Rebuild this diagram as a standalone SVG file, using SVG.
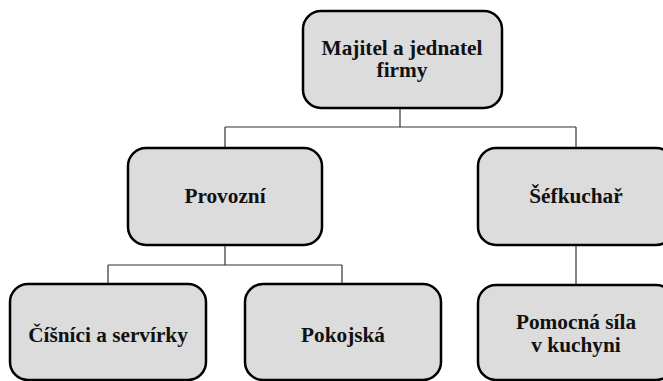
<svg xmlns="http://www.w3.org/2000/svg" width="663" height="381" viewBox="0 0 663 381">
<style>
.box{fill:#dcdcdc;stroke:#000;stroke-width:2.5}
.lbl{font-family:"Liberation Serif",serif !important;font-weight:bold;font-size:21.3px;fill:#111;text-anchor:middle}
.c{fill:none;stroke:#333;stroke-width:1.2}
</style>
<rect width="663" height="381" fill="#fff"/>
<g id="connectors">
<path class="c" d="M400 108V127M225 127H576M225 127V148M576 127V148"/>
<path class="c" d="M225 245V265M108 265H342M108 265V284M342 265V284"/>
<path class="c" d="M576 245V285"/>
</g>
<g id="n-majitel">
<rect class="box" x="303" y="11" width="199" height="97" rx="18"/>
<text class="lbl" font-family="Liberation Serif" x="402" y="55">Majitel a jednatel</text>
<text class="lbl" font-family="Liberation Serif" x="402" y="77">firmy</text>
</g>
<g id="n-provozni">
<rect class="box" x="128" y="148" width="194" height="97" rx="18"/>
<text class="lbl" font-family="Liberation Serif" x="225" y="203">Provozní</text>
</g>
<g id="n-sefkuchar">
<rect class="box" x="478" y="148" width="196" height="97" rx="18"/>
<text class="lbl" font-family="Liberation Serif" x="576" y="203">Šéfkuchař</text>
</g>
<g id="n-cisnici">
<rect class="box" x="10" y="284" width="196" height="96" rx="18"/>
<text class="lbl" font-family="Liberation Serif" x="108" y="342">Číšníci a servírky</text>
</g>
<g id="n-pokojska">
<rect class="box" x="245" y="284" width="196" height="96" rx="18"/>
<text class="lbl" font-family="Liberation Serif" x="343" y="342">Pokojská</text>
</g>
<g id="n-pomocna">
<rect class="box" x="478" y="285" width="196" height="95" rx="18"/>
<text class="lbl" font-family="Liberation Serif" x="576" y="329">Pomocná síla</text>
<text class="lbl" font-family="Liberation Serif" x="576" y="352">v kuchyni</text>
</g>
</svg>
